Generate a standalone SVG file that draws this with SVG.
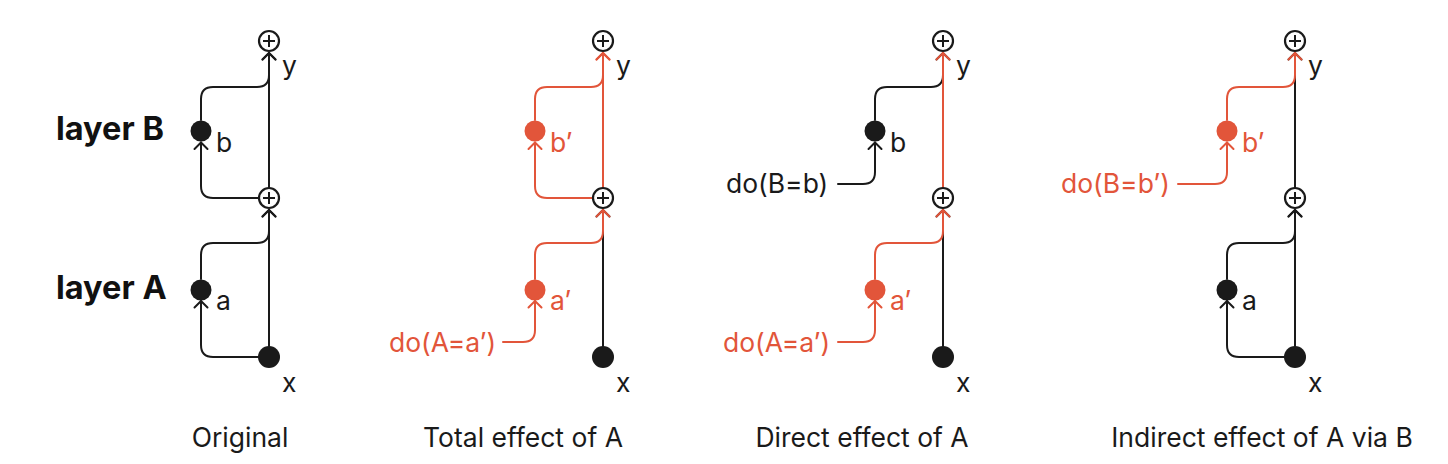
<svg xmlns="http://www.w3.org/2000/svg" width="1448" height="464" viewBox="0 0 1448 464">
<style>
.k{stroke:#1a1a1a;fill:none;stroke-width:2;stroke-linecap:round}
.o{stroke:#E2553A;fill:none;stroke-width:2;stroke-linecap:round}
.nk{fill:#1a1a1a}
.no{fill:#E2553A}
.lbl{font-family:Inter,"Liberation Sans",sans-serif;font-size:26.5px;fill:#1a1a1a}
.lo{fill:#E2553A}
.ttl{font-family:Inter,"Liberation Sans",sans-serif;font-size:26.5px;fill:#1a1a1a;text-anchor:middle}
.lay{font-family:Inter,"Liberation Sans",sans-serif;font-size:32.5px;font-weight:700;fill:#111}
</style>
<defs>
<marker id="ak" markerWidth="20" markerHeight="20" viewBox="-10 -10 20 20" refX="0" refY="0" orient="auto" markerUnits="userSpaceOnUse" overflow="visible"><path d="M-6.5,-6.5 L0,0 L-6.5,6.5" fill="none" stroke="#1a1a1a" stroke-width="2" stroke-linecap="round" stroke-linejoin="round"/></marker>
<marker id="ao" markerWidth="20" markerHeight="20" viewBox="-10 -10 20 20" refX="0" refY="0" orient="auto" markerUnits="userSpaceOnUse" overflow="visible"><path d="M-6.5,-6.5 L0,0 L-6.5,6.5" fill="none" stroke="#E2553A" stroke-width="2" stroke-linecap="round" stroke-linejoin="round"/></marker>
<g id="pl"><circle r="10" fill="#fff" stroke="#1a1a1a" stroke-width="2.2"/><path d="M-6,0H6M0,-6V6" stroke="#1a1a1a" stroke-width="2" fill="none"/></g>
</defs>

<g id="connectors">
<path class="k" marker-end="url(#ak)" d="M269,346 V210"/>
<path class="k" marker-end="url(#ak)" d="M269,187.5 V53"/>
<path class="k" marker-end="url(#ak)" d="M258,357 H213 Q201,357 201,345 V301"/>
<path class="k" marker-end="url(#ak)" d="M201,279 V255 Q201,243 213,243 H257 Q269,243 269,231 V210"/>
<path class="k" marker-end="url(#ak)" d="M259,198 H213 Q201,198 201,186 V142.5"/>
<path class="k" marker-end="url(#ak)" d="M201,120 V99 Q201,87 213,87 H257 Q269,87 269,75 V53"/>

<path class="k" marker-end="url(#ak)" d="M603,346 V210"/>
<path class="o" marker-end="url(#ao)" d="M603,187.5 V53"/>
<path class="o" marker-end="url(#ao)" d="M503,342 H523 Q535,342 535,330 V301"/>
<path class="o" marker-end="url(#ao)" d="M535,279 V255 Q535,243 547,243 H591 Q603,243 603,231 V210"/>
<path class="o" marker-end="url(#ao)" d="M593,198 H547 Q535,198 535,186 V142.5"/>
<path class="o" marker-end="url(#ao)" d="M535,120 V99 Q535,87 547,87 H591 Q603,87 603,75 V53"/>

<path class="k" marker-end="url(#ak)" d="M943,346 V210"/>
<path class="k" marker-end="url(#ak)" d="M838,184 H863 Q875,184 875,172 V142.5"/>
<path class="k" marker-end="url(#ak)" d="M875,120 V99 Q875,87 887,87 H931 Q943,87 943,75 V53"/>
<path class="o" marker-end="url(#ao)" d="M943,187.5 V53"/>
<path class="o" marker-end="url(#ao)" d="M838,342 H863 Q875,342 875,330 V301"/>
<path class="o" marker-end="url(#ao)" d="M875,279 V255 Q875,243 887,243 H931 Q943,243 943,231 V210"/>

<path class="k" marker-end="url(#ak)" d="M1295,346 V210"/>
<path class="k" marker-end="url(#ak)" d="M1295,187.5 V53"/>
<path class="k" marker-end="url(#ak)" d="M1284,357 H1239 Q1227,357 1227,345 V301"/>
<path class="k" marker-end="url(#ak)" d="M1227,279 V255 Q1227,243 1239,243 H1283 Q1295,243 1295,231 V210"/>
<path class="o" marker-end="url(#ao)" d="M1178,184 H1215 Q1227,184 1227,172 V142.5"/>
<path class="o" marker-end="url(#ao)" d="M1227,120 V99 Q1227,87 1239,87 H1283 Q1295,87 1295,75 V53"/>
</g>

<text class="lay" x="56" y="140">layer B</text>
<text class="lay" x="56" y="299">layer A</text>

<g id="p1-y"><use href="#pl" x="269" y="41"/><text class="lbl" x="282" y="75">y</text></g>
<g id="p1-sum"><use href="#pl" x="269" y="198"/></g>
<g id="p1-b"><circle class="nk" cx="201" cy="131" r="10.5"/><text class="lbl" x="216" y="152">b</text></g>
<g id="p1-a"><circle class="nk" cx="201" cy="290" r="10.5"/><text class="lbl" x="216" y="310">a</text></g>
<g id="p1-x"><circle class="nk" cx="269" cy="357" r="11"/><text class="lbl" x="282" y="392">x</text></g>
<text class="ttl" x="240" y="447">Original</text>

<g id="p2-y"><use href="#pl" x="603" y="41"/><text class="lbl" x="616" y="75">y</text></g>
<g id="p2-sum"><use href="#pl" x="603" y="198"/></g>
<g id="p2-b"><circle class="no" cx="535" cy="131" r="10.5"/><text class="lbl lo" x="550" y="152">b’</text></g>
<g id="p2-a"><circle class="no" cx="535" cy="290" r="10.5"/><text class="lbl lo" x="550" y="310">a’</text></g>
<g id="p2-x"><circle class="nk" cx="603" cy="357" r="11"/><text class="lbl" x="616" y="392">x</text></g>
<g id="p2-do"><text class="lbl lo" x="389" y="352">do(A=a’)</text></g>
<text class="ttl" x="523" y="447">Total effect of A</text>

<g id="p3-y"><use href="#pl" x="943" y="41"/><text class="lbl" x="956" y="75">y</text></g>
<g id="p3-sum"><use href="#pl" x="943" y="198"/></g>
<g id="p3-b"><circle class="nk" cx="875" cy="131" r="10.5"/><text class="lbl" x="890" y="152">b</text></g>
<g id="p3-a"><circle class="no" cx="875" cy="290" r="10.5"/><text class="lbl lo" x="890" y="310">a’</text></g>
<g id="p3-x"><circle class="nk" cx="943" cy="357" r="11"/><text class="lbl" x="956" y="392">x</text></g>
<g id="p3-doB"><text class="lbl" x="726" y="193">do(B=b)</text></g>
<g id="p3-doA"><text class="lbl lo" x="723" y="352">do(A=a’)</text></g>
<text class="ttl" x="862" y="447">Direct effect of A</text>

<g id="p4-y"><use href="#pl" x="1295" y="41"/><text class="lbl" x="1308" y="75">y</text></g>
<g id="p4-sum"><use href="#pl" x="1295" y="198"/></g>
<g id="p4-b"><circle class="no" cx="1227" cy="131" r="10.5"/><text class="lbl lo" x="1242" y="152">b’</text></g>
<g id="p4-a"><circle class="nk" cx="1227" cy="290" r="10.5"/><text class="lbl" x="1242" y="310">a</text></g>
<g id="p4-x"><circle class="nk" cx="1295" cy="357" r="11"/><text class="lbl" x="1308" y="392">x</text></g>
<g id="p4-doB"><text class="lbl lo" x="1061" y="193">do(B=b’)</text></g>
<text class="ttl" x="1262" y="447">Indirect effect of A via B</text>
</svg>
